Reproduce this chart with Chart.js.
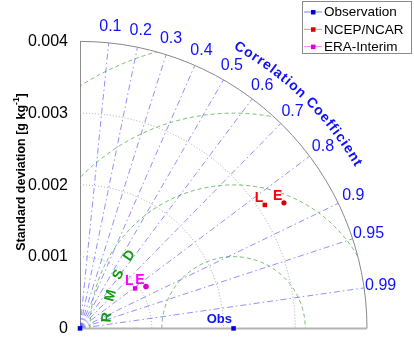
<!DOCTYPE html>
<html>
<head>
<meta charset="utf-8">
<script src="https://cdn.jsdelivr.net/npm/chart.js@4.4.0/dist/chart.umd.min.js"></script>
<style>
    html, body { margin: 0; padding: 0; background: #fff; }
    #wrap { width: 414px; height: 342px; position: relative; }
</style>
</head>
<body>
<div id="wrap"><canvas id="taylor-chart"></canvas></div>
<script>
// axes / grid values
const stdTicks = [0, 0.001, 0.002, 0.003, 0.004];
const stdMax = 0.004;
const stdArcs = [0.001, 0.002, 0.003];
const corrTicks = [0.1, 0.2, 0.3, 0.4, 0.5, 0.6, 0.7, 0.8, 0.9, 0.95, 0.99];
const rmsdTicks = [0.001, 0.002, 0.003, 0.004];

// observation (reference) points
const obsLabels = ['', 'Obs'];
const obsStd = [0, 0.00214];
const obsCorr = [1, 1];

// reanalyses: L and E
const modelLabels = ['L', 'E'];
const ncepStd = [0.00310, 0.00334];
const ncepCorr = [0.831, 0.851];
const eraStd = [0.00095, 0.00109];
const eraCorr = [0.809, 0.844];

const FONT = "'Liberation Sans', Arial, sans-serif";

function toXY(s, r) {
    return { x: s * r, y: s * Math.sqrt(Math.max(0, 1 - r * r)) };
}

const taylorGrid = {
    id: 'taylorGrid',
    beforeDatasetsDraw(chart) {
        const { ctx, scales: { x, y } } = chart;
        const x0 = x.getPixelForValue(0);
        const y0 = y.getPixelForValue(0);
        const R = x.getPixelForValue(stdMax) - x0;
        const ox = x.getPixelForValue(obsStd[1]);

        ctx.save();
        ctx.beginPath();
        ctx.moveTo(x0, y0);
        ctx.arc(x0, y0, R, -Math.PI / 2, 0);
        ctx.closePath();
        ctx.clip();

        // std arcs
        ctx.strokeStyle = '#a8a8a8';
        ctx.lineWidth = 1;
        ctx.setLineDash([1, 2]);
        stdArcs.forEach(function (s) {
            const r = x.getPixelForValue(s) - x0;
            ctx.beginPath();
            ctx.arc(x0, y0, r, -Math.PI / 2, 0);
            ctx.stroke();
        });

        // rmsd circles around obs
        ctx.strokeStyle = 'rgba(70, 170, 70, 0.75)';
        ctx.setLineDash([4, 3]);
        rmsdTicks.forEach(function (d) {
            const r = x.getPixelForValue(d) - x0;
            ctx.beginPath();
            ctx.arc(ox, y0, r, Math.PI, 2 * Math.PI);
            ctx.stroke();
        });

        // correlation rays
        ctx.strokeStyle = 'rgba(70, 70, 255, 0.6)';
        ctx.setLineDash([6, 3, 1.5, 3]);
        corrTicks.forEach(function (c) {
            const a = Math.acos(c);
            ctx.beginPath();
            ctx.moveTo(x0, y0);
            ctx.lineTo(x0 + R * Math.cos(a), y0 - R * Math.sin(a));
            ctx.stroke();
        });
        ctx.restore();

        // outer arc + bottom axis
        ctx.save();
        ctx.strokeStyle = '#888';
        ctx.lineWidth = 1;
        ctx.beginPath();
        ctx.arc(x0, y0, R, -Math.PI / 2, 0);
        ctx.stroke();
        ctx.strokeStyle = '#b4b4b4';
        ctx.lineWidth = 2;
        ctx.beginPath();
        ctx.moveTo(x0, y0);
        ctx.lineTo(x0 + R, y0);
        ctx.stroke();

        // correlation labels
        ctx.fillStyle = '#1010ff';
        ctx.font = '16px ' + FONT;
        ctx.textAlign = 'center';
        ctx.textBaseline = 'middle';
        corrTicks.forEach(function (c) {
            const a = Math.acos(c);
            const r = R * 1.058;
            ctx.fillText(String(c), x0 + r * Math.cos(a), y0 - r * Math.sin(a));
        });

        // curved title
        drawArcText(ctx, 'Correlation Coefficient', x0, y0, R * 1.125, 60.4, 30.8,
            'bold 14px ' + FONT, '#1010ff');

        // RMSD letters along a circle around obs
        ctx.fillStyle = '#129a12';
        ctx.font = 'bold 14px ' + FONT;
        const rr = x.getPixelForValue(0.00177) - x0;
        ['R', 'M', 'S', 'D'].forEach(function (ch, i) {
            const a = (175 - i * 10) * Math.PI / 180;
            ctx.save();
            ctx.translate(ox + rr * Math.cos(a), y0 - rr * Math.sin(a));
            ctx.rotate(-(a - Math.PI / 2));
            ctx.fillText(ch, 0, 0);
            ctx.restore();
        });

        // y title with superscript
        ctx.translate(22, 172);
        ctx.rotate(-Math.PI / 2);
        ctx.fillStyle = '#000';
        ctx.textAlign = 'left';
        ctx.textBaseline = 'middle';
        const main = 'Standard deviation [g kg';
        const mainFont = 'bold 12.5px ' + FONT;
        const supFont = 'bold 8.5px ' + FONT;
        ctx.font = mainFont;
        const w1 = ctx.measureText(main).width;
        const w3 = ctx.measureText(']').width;
        ctx.font = supFont;
        const w2 = ctx.measureText('-1').width;
        let sx = -(w1 + w2 + w3) / 2;
        ctx.font = mainFont;
        ctx.fillText(main, sx, 0);
        ctx.font = supFont;
        ctx.fillText('-1', sx + w1, -5);
        ctx.font = mainFont;
        ctx.fillText(']', sx + w1 + w2, 0);
        ctx.restore();
    },
    afterDatasetsDraw(chart) {
        const ctx = chart.ctx;
        ctx.save();
        ctx.textAlign = 'right';
        ctx.textBaseline = 'alphabetic';
        chart.data.datasets.forEach(function (ds, di) {
            const meta = chart.getDatasetMeta(di);
            meta.data.forEach(function (pt, i) {
                const txt = ds.pointLabels[i];
                if (!txt) return;
                ctx.font = ds.labelFont;
                ctx.fillStyle = ds.textColor;
                ctx.fillText(txt, pt.x - 1.5, pt.y - ds.labelLift);
            });
        });
        ctx.restore();
    },
    afterDraw(chart) {
        // legend box
        const ctx = chart.ctx;
        ctx.save();
        ctx.fillStyle = '#fff';
        ctx.fillRect(302, 1, 109, 53);
        ctx.strokeStyle = '#8a8a8a';
        ctx.lineWidth = 1;
        ctx.strokeRect(302.5, 1.5, 109, 52);
        ctx.font = '13.5px ' + FONT;
        ctx.textAlign = 'left';
        ctx.textBaseline = 'middle';
        chart.data.datasets.forEach(function (ds, i) {
            const yy = 12 + i * 17.3;
            ctx.strokeStyle = ds.lineColor;
            ctx.beginPath();
            ctx.moveTo(304, yy);
            ctx.lineTo(322, yy);
            ctx.stroke();
            ctx.fillStyle = ds.backgroundColor;
            ctx.fillRect(311, yy - 2, 4.5, 4.5);
            ctx.fillStyle = '#000';
            ctx.fillText(ds.label, 324, yy + 0.5);
        });
        ctx.restore();
    }
};

function drawArcText(ctx, text, cx, cy, radius, startDeg, endDeg, font, color) {
    ctx.save();
    ctx.font = font;
    ctx.fillStyle = color;
    ctx.textAlign = 'center';
    ctx.textBaseline = 'middle';
    const chars = text.split('');
    const widths = chars.map(function (c) { return ctx.measureText(c).width; });
    const total = widths.reduce(function (a, b) { return a + b; }, 0);
    const span = (startDeg - endDeg) * Math.PI / 180 * radius;
    const natural = total - widths[0] / 2 - widths[widths.length - 1] / 2;
    const gap = (span - natural) / (chars.length - 1);
    let pos = 0;
    chars.forEach(function (c, i) {
        if (i > 0) pos += widths[i - 1] / 2 + widths[i] / 2 + gap;
        const a = startDeg * Math.PI / 180 - pos / radius;
        ctx.save();
        ctx.translate(cx + radius * Math.cos(a), cy - radius * Math.sin(a));
        ctx.rotate(Math.PI / 2 - a);
        ctx.fillText(c, 0, 0);
        ctx.restore();
    });
    ctx.restore();
}

const ctx = document.getElementById('taylor-chart').getContext('2d');
const chart = new Chart(ctx, {
    type: 'scatter',
    data: {
        datasets: [{
            label: 'Observation',
            data: obsStd.map(function (s, i) { return toXY(s, obsCorr[i]); }),
            pointLabels: obsLabels,
            pointStyle: 'rect',
            pointRadius: 3.2,
            borderWidth: 0,
            backgroundColor: '#0000d0',
            borderColor: '#0000d0',
            lineColor: '#8080ff',
            textColor: '#1010ff',
            labelFont: 'bold 13px ' + FONT,
            labelLift: 5
        }, {
            label: 'NCEP/NCAR',
            data: ncepStd.map(function (s, i) { return toXY(s, ncepCorr[i]); }),
            pointLabels: modelLabels,
            pointStyle: ['rect', 'circle'],
            pointRadius: [3.2, 2.6],
            borderWidth: 0,
            backgroundColor: '#dd0000',
            borderColor: '#dd0000',
            lineColor: '#ff8080',
            textColor: '#ff0000',
            labelFont: 'bold 14px ' + FONT,
            labelLift: 3
        }, {
            label: 'ERA-Interim',
            data: eraStd.map(function (s, i) { return toXY(s, eraCorr[i]); }),
            pointLabels: modelLabels,
            pointStyle: ['rect', 'circle'],
            pointRadius: [3.2, 2.8],
            borderWidth: 0,
            backgroundColor: '#dd00dd',
            borderColor: '#dd00dd',
            lineColor: '#ff80ff',
            textColor: '#ff00ff',
            labelFont: 'bold 14px ' + FONT,
            labelLift: 3
        }]
    },
    options: {
        responsive: true,
        maintainAspectRatio: false,
        animation: false,
        clip: false,
        layout: {
            padding: { left: 0, right: 47, top: 42, bottom: 13 }
        },
        scales: {
            x: {
                type: 'linear',
                display: false,
                min: 0,
                max: stdMax
            },
            y: {
                type: 'linear',
                min: 0,
                max: stdMax,
                afterBuildTicks: function (scale) {
                    scale.ticks = stdTicks.map(function (v) { return { value: v }; });
                },
                afterFit: function (scale) {
                    scale.width = 80;
                },
                grid: { display: false },
                border: { color: '#8c8c8c', width: 1 },
                ticks: {
                    color: '#000',
                    padding: 4,
                    font: { family: FONT, size: 16 },
                    callback: function (v) {
                        return v === 0 ? '0' : v.toFixed(3);
                    }
                }
            }
        },
        plugins: {
            legend: { display: false },
            tooltip: { enabled: false }
        }
    },
    plugins: [taylorGrid]
});
</script>
</body>
</html>
